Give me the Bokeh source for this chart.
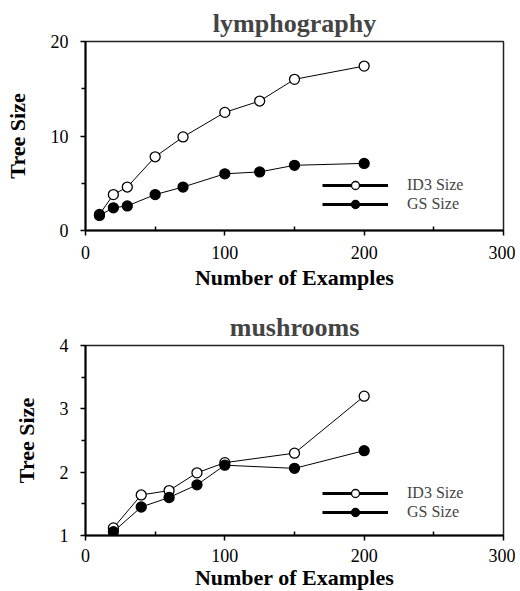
from bokeh.plotting import figure
from bokeh.layouts import column
from bokeh.models import FixedTicker, Range1d, Legend, LegendItem, ColumnDataSource
from bokeh.embed import file_html
from bokeh.resources import INLINE

# lymphography
lym_x = [10, 20, 30, 50, 70, 100, 125, 150, 200]
lym_id3 = [1.7, 3.8, 4.6, 7.8, 9.9, 12.5, 13.7, 16.0, 17.4]
lym_gs = [1.6, 2.4, 2.6, 3.8, 4.6, 6.0, 6.2, 6.9, 7.1]

# mushrooms
mush_x = [20, 40, 60, 80, 100, 150, 200]
mush_id3 = [1.12, 1.64, 1.71, 1.99, 2.15, 2.30, 3.20]
mush_gs = [1.06, 1.45, 1.60, 1.80, 2.11, 2.06, 2.34]

x_ticks = [0, 100, 200, 300]
x_minor = [50, 150, 250]
lym_yticks = [0, 10, 20]
lym_yminor = [5, 15]
mush_yticks = [1, 2, 3, 4]
mush_yminor = [1.5, 2.5, 3.5]

FONT = "Liberation Serif"
NAN = float("nan")


def make_plot(title, xs, id3, gs, yr, yticks, yminor, top_border, bottom_border, frame_h,
              leg_id3, leg_gs, x_std, x_lab_std):
    p = figure(output_backend="svg", toolbar_location=None,
               frame_width=418, frame_height=frame_h,
               min_border_left=85, min_border_right=12,
               min_border_top=top_border, min_border_bottom=bottom_border,
               x_range=Range1d(0, 300), y_range=Range1d(*yr))
    p.title.text = title
    p.title.align = "center"
    p.title.text_font = FONT
    p.title.text_font_size = "26px"
    p.title.text_font_style = "bold"
    p.title.standoff = 8
    p.grid.visible = False
    p.outline_line_color = "#222222"
    p.outline_line_width = 1.5

    p.xaxis.ticker = FixedTicker(ticks=x_ticks, minor_ticks=x_minor)
    p.yaxis.ticker = FixedTicker(ticks=yticks, minor_ticks=yminor)
    for ax in (p.xaxis[0], p.yaxis[0]):
        ax.axis_line_width = 2
        ax.axis_line_color = "black"
        ax.major_tick_line_color = "black"
        ax.minor_tick_line_color = "black"
        ax.major_tick_line_width = 1.5
        ax.minor_tick_line_width = 1.5
        ax.major_tick_out = 5
        ax.major_tick_in = 0
        ax.major_label_text_font = FONT
        ax.major_label_text_font_size = "18px"
        ax.major_label_text_color = "black"
        ax.axis_label_text_font = FONT
        ax.axis_label_text_font_style = "bold"
        ax.axis_label_text_font_size = "22px"
        ax.axis_label_text_color = "black"
    p.xaxis.major_label_standoff = x_std
    p.yaxis.major_label_standoff = 12
    p.xaxis.minor_tick_in = 4
    p.xaxis.minor_tick_out = 0
    p.yaxis.minor_tick_in = 0
    p.yaxis.minor_tick_out = 4
    p.xaxis.axis_label = "Number of Examples"
    p.yaxis.axis_label = "Tree Size"
    p.xaxis.axis_label_standoff = x_lab_std
    p.yaxis.axis_label_standoff = 18

    src = ColumnDataSource(dict(x=xs, id3=id3, gs=gs))
    p.line("x", "id3", source=src, line_color="black", line_width=1)
    p.line("x", "gs", source=src, line_color="black", line_width=1)
    p.scatter("x", "id3", source=src, size=10, fill_color="white", line_color="black", line_width=1.3)
    p.scatter("x", "gs", source=src, size=10, fill_color="black", line_color="black", line_width=1.3)

    # legend-only renderers (draw nothing on the plot)
    empty = ColumnDataSource(dict(x=[NAN], y=[NAN]))
    l1 = p.line("x", "y", source=empty, line_color="black", line_width=3)
    m1 = p.scatter("x", "y", source=empty, fill_color="white", line_color="black", line_width=1.3)
    l2 = p.line("x", "y", source=empty, line_color="black", line_width=3)
    m2 = p.scatter("x", "y", source=empty, fill_color="black", line_color="black", line_width=1.3)
    for label, rends, loc in (("ID3 Size", [l1, m1], leg_id3), ("GS Size", [l2, m2], leg_gs)):
        legend = Legend(items=[LegendItem(label=label, renderers=rends)],
                        location=loc, orientation="vertical",
                        glyph_width=66, glyph_height=20, label_height=16, spacing=0,
                        label_standoff=19, padding=0, margin=0,
                        border_line_color=None, background_fill_alpha=0,
                        label_text_font=FONT, label_text_font_size="16px",
                        label_text_line_height=0.8)
        p.add_layout(legend)
    return p


p1 = make_plot("lymphography", lym_x, lym_id3, lym_gs, (0, 20), lym_yticks, lym_yminor,
               41, 62, 189, (237, 35), (237, 16), 10, 3)
p2 = make_plot("mushrooms", mush_x, mush_id3, mush_gs, (1, 4), mush_yticks, mush_yminor,
               53, 40, 190, (237, 32), (237, 13), 8, 0)

layout = column(p1, p2, spacing=0)
open("out.html", "w").write(file_html(layout, INLINE))
